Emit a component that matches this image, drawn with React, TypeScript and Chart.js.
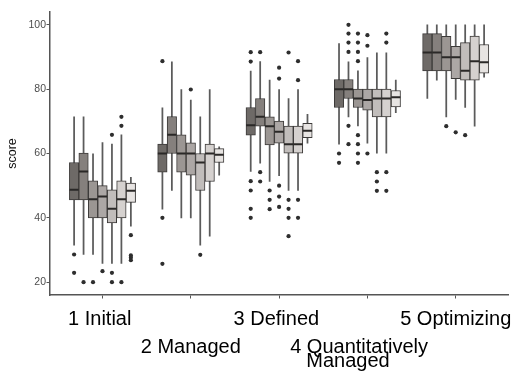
import React, { useEffect, useRef } from "react";
import { Chart, registerables } from "chart.js";

Chart.register(...registerables);

// Category tick labels (staggered in two rows, as in the reference)
const tickLabels: string[][] = [
  ["1 Initial "],
  ["", "", "2 Managed"],
  ["3 Defined "],
  ["", "", "4 Quantitatively   ", "Managed       "],
  ["5 Optimizing"],
];
const yTicks = [20, 40, 60, 80, 100];

// Seven series per category (dark -> light grey boxes)
const seriesNames = ["S1", "S2", "S3", "S4", "S5", "S6", "S7"];

// Box statistics: [series][category]
const whiskerLow: number[][] = [
  [31.5, 42.7, 54.4, 62.9, 77.1],
  [28.6, 48.5, 57.0, 71.4, 82.8],
  [28.6, 40.0, 51.3, 68.6, 71.4],
  [25.8, 40.0, 53.1, 63.2, 76.8],
  [25.8, 31.5, 48.5, 60.1, 74.3],
  [25.8, 34.3, 48.5, 60.1, 68.5],
  [37.4, 53.3, 63.2, 72.7, 83.7],
];
const q1: number[][] = [
  [45.6, 54.2, 65.7, 74.3, 85.7],
  [45.6, 60.0, 68.5, 77.1, 85.7],
  [40.0, 54.2, 62.7, 74.3, 85.7],
  [40.0, 53.3, 63.2, 73.5, 83.3],
  [38.4, 48.5, 60.1, 71.4, 82.8],
  [40.0, 51.3, 60.1, 71.4, 82.8],
  [44.8, 57.2, 64.9, 74.5, 85.0],
];
const median: number[][] = [
  [48.7, 60.0, 68.8, 80.0, 91.4],
  [54.4, 65.8, 71.4, 80.0, 91.4],
  [45.8, 60.0, 68.5, 77.1, 89.9],
  [46.6, 60.0, 66.8, 76.6, 89.9],
  [42.8, 57.2, 62.9, 77.1, 85.7],
  [45.8, 60.0, 62.9, 77.1, 88.7],
  [48.4, 59.6, 67.1, 77.5, 88.4],
];
const q3: number[][] = [
  [57.2, 62.9, 74.3, 83.0, 97.3],
  [60.1, 71.5, 77.1, 83.0, 97.3],
  [51.5, 65.8, 71.4, 80.0, 96.4],
  [50.0, 63.3, 70.1, 80.0, 93.3],
  [48.7, 60.0, 68.5, 80.0, 94.5],
  [51.5, 62.9, 68.5, 80.0, 96.5],
  [50.8, 61.5, 69.4, 79.6, 93.9],
];
const whiskerHigh: number[][] = [
  [71.4, 74.2, 85.6, 94.2, 100],
  [71.4, 88.5, 88.6, 88.5, 100],
  [59.9, 79.9, 82.8, 85.7, 100],
  [63.4, 76.6, 79.9, 89.8, 100],
  [62.9, 71.4, 77.1, 91.3, 100],
  [65.8, 79.9, 79.9, 91.3, 100],
  [52.6, 62.1, 72.2, 82.8, 100],
];
const outliers: number[][][] = [
  [[28.6, 22.9], [88.7, 40.0, 25.7], [91.5, 88.6, 51.4, 48.5, 42.8, 40.0], [60.0, 57.1], []],
  [[20.0], [], [91.5, 54.2, 51.3], [100, 97.3, 94.5, 91.6, 68.6, 62.9], []],
  [[20.0], [], [48.5, 45.6, 42.7], [97.3, 94.5, 91.6, 88.7, 65.7, 62.9, 60.0, 57.1], [68.5]],
  [[23.4], [79.9], [86.7, 83.3, 50.0, 46.6, 43.4], [96.8, 93.5, 60.0], [66.6]],
  [[65.8, 22.9, 20.0], [28.5], [91.4, 45.6, 42.8, 40.0, 34.3], [54.2, 51.3, 48.4], [65.7]],
  [[71.4, 68.6, 20.0], [], [88.7, 82.8, 45.6, 40.0], [97.3, 94.5, 54.2, 48.4], []],
  [[34.6, 28.3, 27.6, 26.8], [], [], [], []],
];

const fills = ["#6e6a67", "#85807d", "#9b9693", "#aca7a5", "#c1bdbb", "#d5d1cf", "#e7e4e2"];

const FONT = "'Liberation Sans', Arial, Helvetica, sans-serif";
const DODGE = 0.75;

export default function App() {
  const ref = useRef<HTMLCanvasElement | null>(null);

  useEffect(() => {
    document.body.style.margin = "0";
    const canvas = ref.current;
    if (!canvas) return;
    const n = seriesNames.length;
    const w = DODGE / n;
    const xOf = (g: number, b: number) => g + 1 + (b - (n - 1) / 2) * w;

    const datasets: any[] = [];
    seriesNames.forEach((name, b) => {
      datasets.push({
        type: "bar",
        label: name + " whisker",
        data: tickLabels.map((_, g) => ({ x: xOf(g, b), y: [whiskerLow[b][g], whiskerHigh[b][g]] })),
        backgroundColor: "#5b5b5b",
        borderWidth: 0,
        maxBarThickness: 1.1,
        grouped: false,
        barPercentage: 1,
        categoryPercentage: 1,
        order: 4,
      });
      datasets.push({
        type: "bar",
        label: name,
        data: tickLabels.map((_, g) => ({ x: xOf(g, b), y: [q1[b][g], q3[b][g]] })),
        backgroundColor: fills[b],
        borderColor: "#3c3a39",
        borderWidth: 1,
        borderSkipped: false,
        grouped: false,
        barPercentage: 1,
        categoryPercentage: 1,
        order: 3,
      });
      datasets.push({
        type: "scatter",
        label: name + " median",
        data: tickLabels.map((_, g) => ({ x: xOf(g, b), y: median[b][g] })),
        pointStyle: "line",
        pointRadius: 4.6,
        pointHoverRadius: 4.6,
        borderColor: "#2a2827",
        pointBorderColor: "#2a2827",
        pointBorderWidth: 2,
        showLine: false,
        order: 2,
      });
      const pts: { x: number; y: number }[] = [];
      tickLabels.forEach((_, g) => {
        outliers[b][g].forEach((v) => pts.push({ x: xOf(g, b), y: v }));
      });
      datasets.push({
        type: "scatter",
        label: name + " outliers",
        data: pts,
        pointRadius: 2.1,
        pointBackgroundColor: "#2e2e2e",
        pointBorderWidth: 0,
        showLine: false,
        order: 1,
      });
    });

    const chart = new Chart(canvas, {
      type: "bar",
      data: { datasets },
      options: {
        responsive: false,
        animation: false,
        events: [],
        layout: { padding: { top: 12, right: 9.3, bottom: 0, left: 0 } },
        plugins: { legend: { display: false }, tooltip: { enabled: false } },
        scales: {
          x: {
            type: "linear",
            min: 0.4,
            max: 5.6,
            offset: false,
            afterBuildTicks: (s: any) => {
              s.ticks = tickLabels.map((_, i) => ({ value: i + 1 }));
            },
            afterFit: (s: any) => {
              s.height = 76;
              s.paddingLeft = 0;
              s.paddingRight = 0;
            },
            grid: {
              display: true,
              drawOnChartArea: false,
              offset: false,
              drawTicks: true,
              tickLength: 3.5,
              tickColor: "#555555",
              tickWidth: 1,
            },
            border: { display: true, color: "#555555", width: 1.5 },
            ticks: {
              autoSkip: false,
              maxRotation: 0,
              minRotation: 0,
              padding: 13.5,
              color: "#000000",
              font: { family: FONT, size: 20, lineHeight: 0.7 },
              callback: (v: any) => tickLabels[Math.round(Number(v)) - 1] ?? "",
            },
          },
          y: {
            type: "linear",
            min: 16,
            max: 104,
            afterBuildTicks: (s: any) => {
              s.ticks = yTicks.map((v) => ({ value: v }));
            },
            afterFit: (s: any) => {
              s.width = 49.5;
              s.paddingTop = 0;
              s.paddingBottom = 0;
            },
            grid: {
              display: true,
              drawOnChartArea: false,
              drawTicks: true,
              tickLength: 3,
              tickColor: "#555555",
              tickWidth: 1,
            },
            border: { display: true, color: "#555555", width: 1.5 },
            ticks: {
              padding: 0.5,
              color: "#4d4d4d",
              font: { family: FONT, size: 10.5 },
            },
            title: {
              display: true,
              text: "score",
              color: "#111111",
              font: { family: FONT, size: 12.5 },
              padding: { top: 5, bottom: 0 },
            },
          },
        },
      },
    });
    return () => chart.destroy();
  }, []);

  return (
    <div style={{ width: 518, height: 371 }}>
      <canvas ref={ref} width={518} height={371} style={{ display: "block" }} />
    </div>
  );
}
